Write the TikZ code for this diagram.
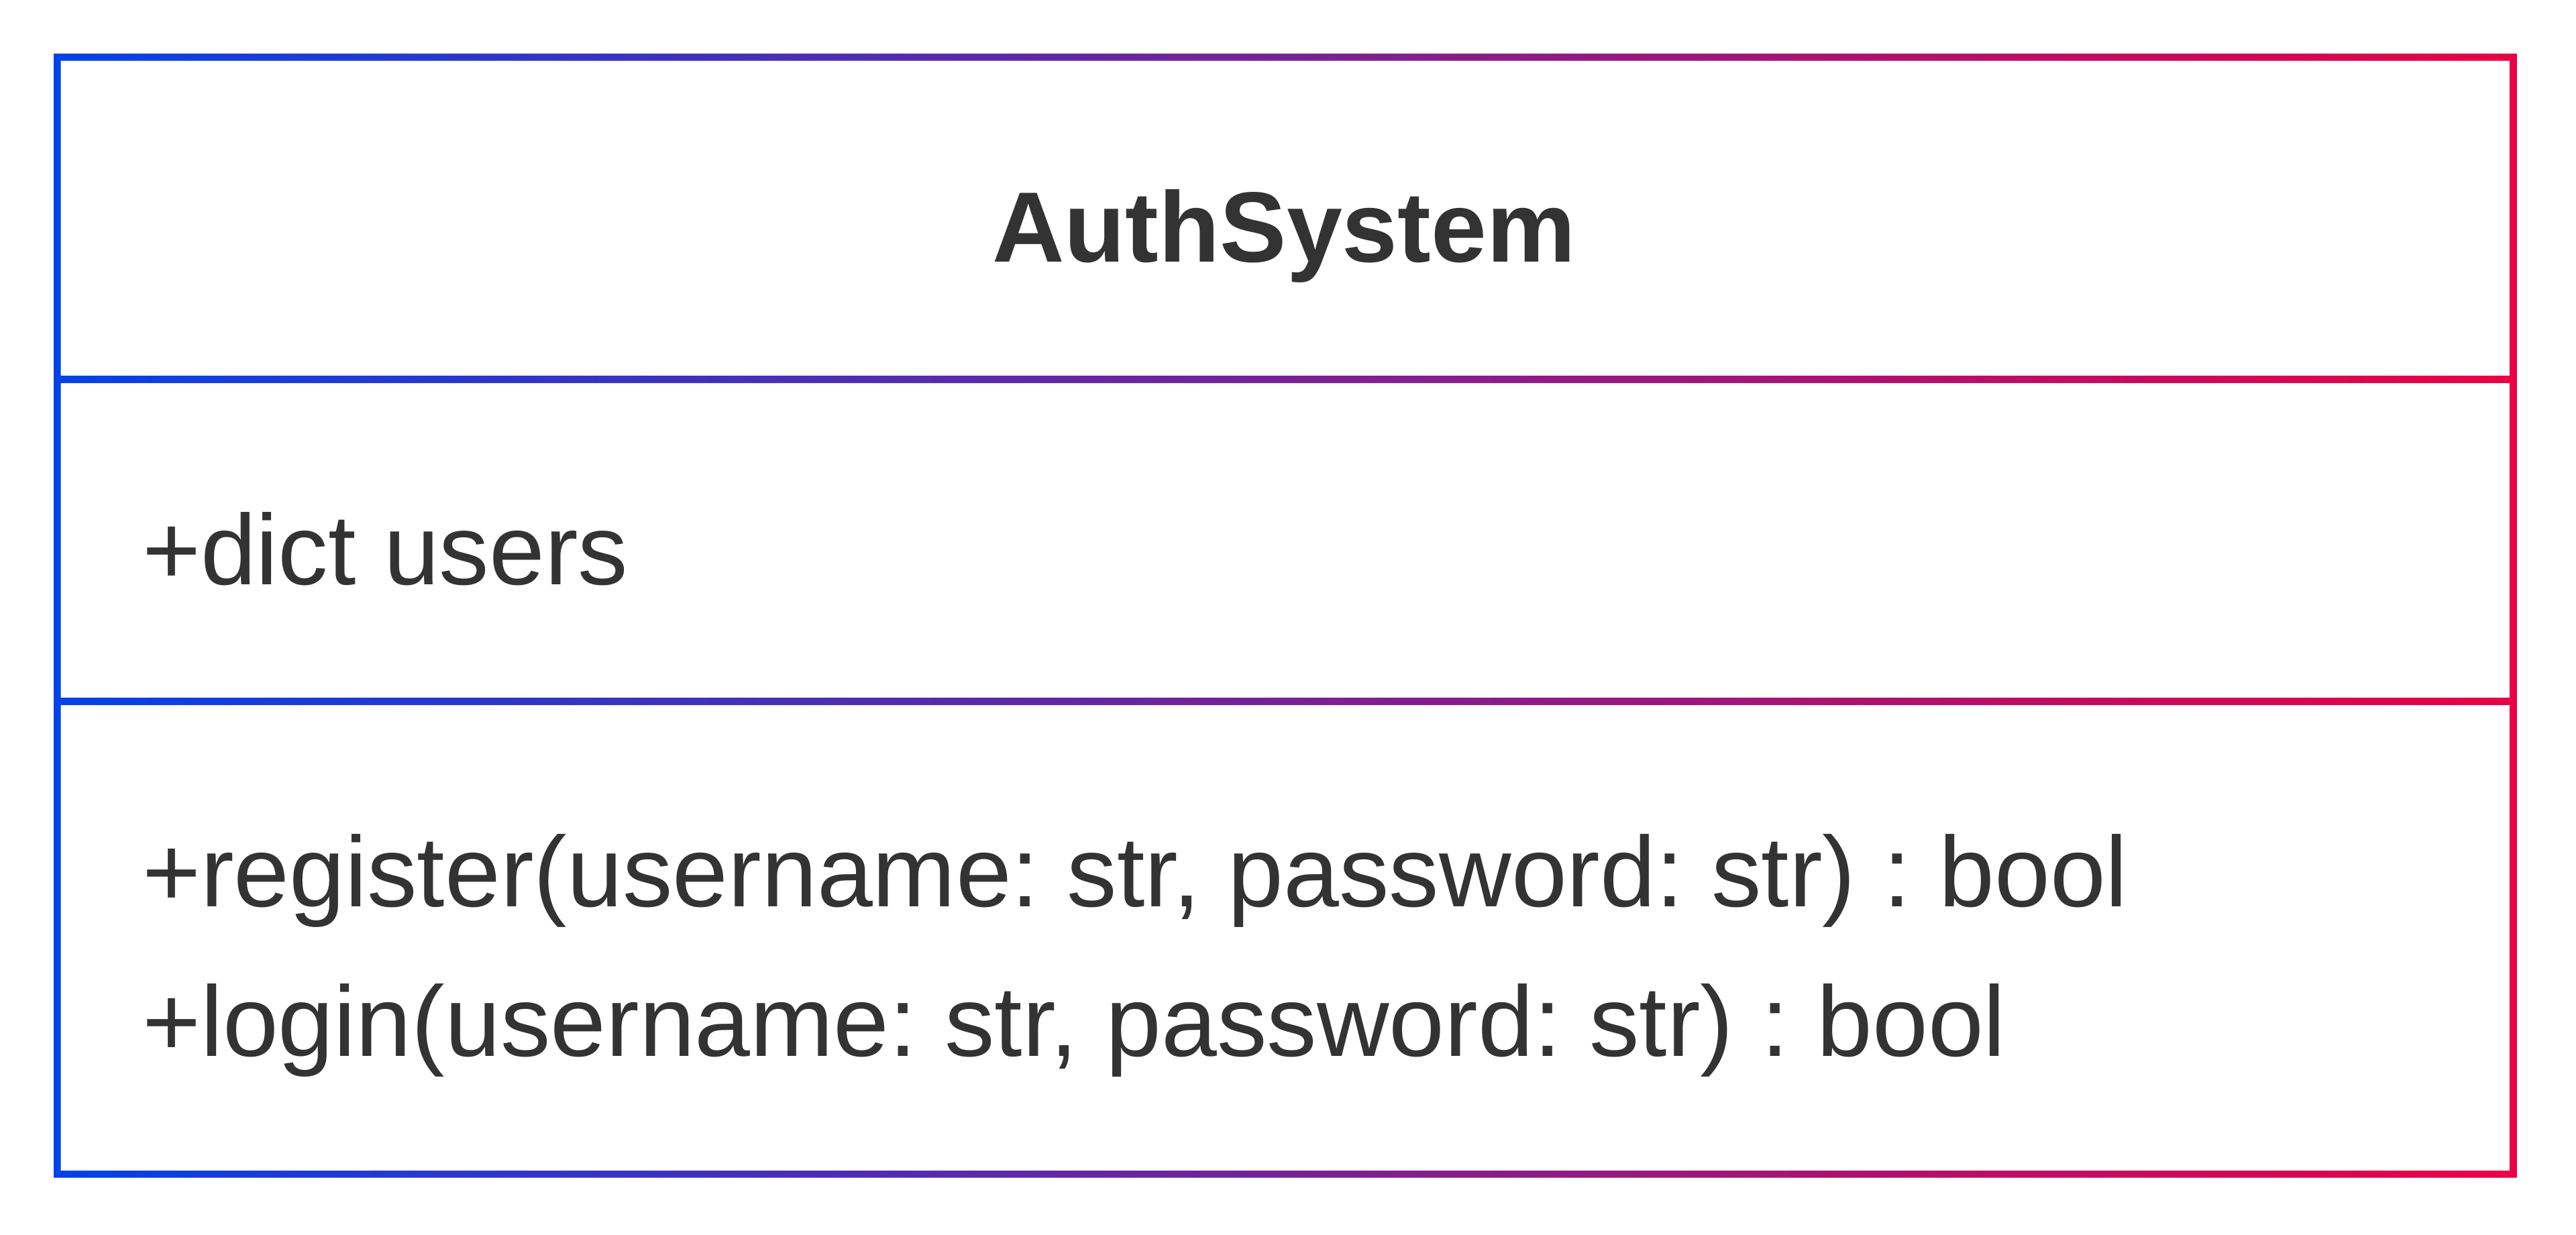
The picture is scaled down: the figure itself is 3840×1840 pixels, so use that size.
\documentclass[tikz,border=0pt]{standalone}
\usepackage{fontspec}
\setmainfont{Liberation Sans}
\frenchspacing
\definecolor{txt}{HTML}{333333}
\definecolor{bleft}{RGB}{3,66,232}
\definecolor{bright}{RGB}{236,0,68}
\begin{document}
\begin{tikzpicture}[x=0.25pt,y=-0.25pt,
  label/.style={inner sep=0pt,outer sep=0pt,text=txt,font=\fontsize{37.25pt}{44pt}\selectfont\frenchspacing}]
\useasboundingbox (0,0) rectangle (3840,1840);
% gradient frame with compartments
\shade[left color=bleft,right color=bright,even odd rule]
  (80,80) rectangle (3751.7,1755.7)
  (90.7,90.7) rectangle (3741,560)
  (90.7,571) rectangle (3741,1040)
  (90.7,1051) rectangle (3741,1745);
\node[label,anchor=base,font=\fontsize{37.25pt}{44pt}\selectfont\bfseries] (title) at (1914,390) {AuthSystem};
\node[label,anchor=base west] (attr) at (212,871) {+dict users};
\node[label,anchor=base west] (m1) at (212,1351) {+register(username: str, password: str) : bool};
\node[label,anchor=base west] (m2) at (212,1574) {+login(username: str, password: str) : bool};
\end{tikzpicture}
\end{document}
